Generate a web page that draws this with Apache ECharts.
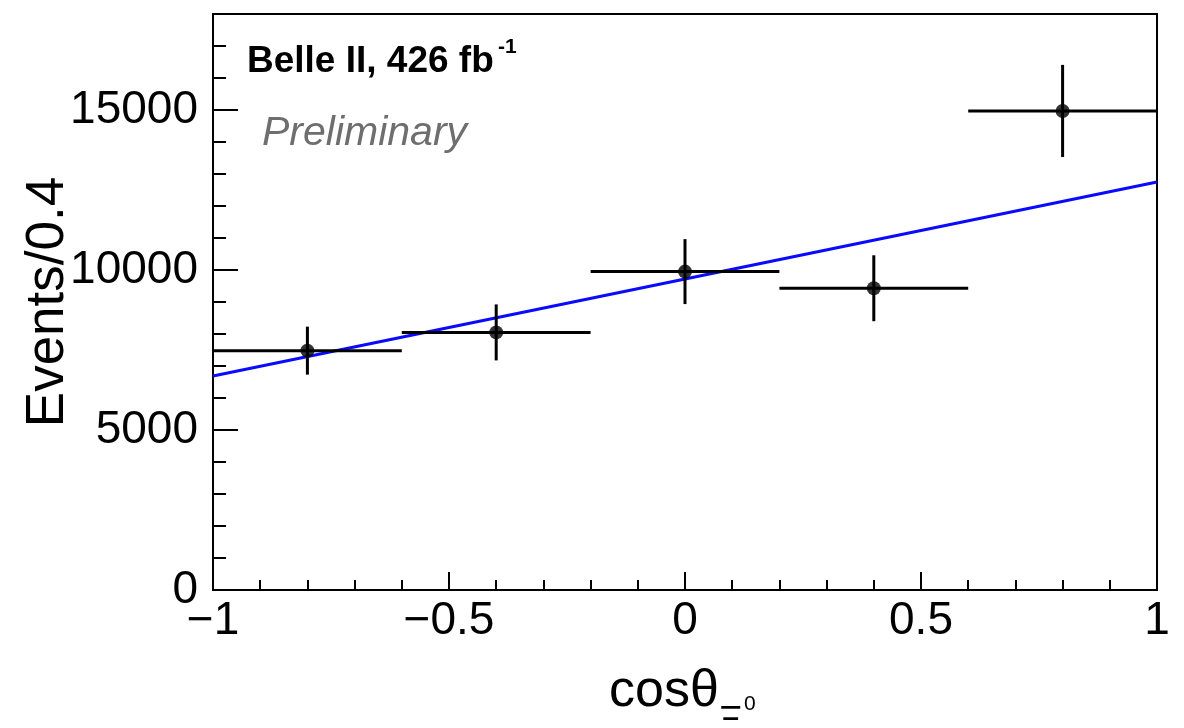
<!DOCTYPE html>
<html>
<head>
<meta charset="utf-8">
<script src="https://cdn.jsdelivr.net/npm/echarts@6/dist/echarts.min.js"></script>
<style>
html,body{margin:0;padding:0;background:#fff;}
#c{width:1184px;height:728px;}
</style>
</head>
<body>
<div id="c"></div>
<script>
// ---- data ----
const binCenters = [-0.8, -0.4, 0.0, 0.4, 0.8];
const binHalfWidths = [0.2, 0.2, 0.2, 0.2, 0.2];
const counts = [7480, 8050, 9950, 9430, 14970];
const countErrors = [750, 875, 1015, 1030, 1440];
const fitX = [-1, 1];
const fitY = [6690, 12750];
const yMajorTicks = [0, 5000, 10000, 15000];

const FONT = '"Liberation Sans", Arial, Helvetica, sans-serif';

const pointData = binCenters.map((x, i) => [x, counts[i]]);
const errData = binCenters.map((x, i) => [x, counts[i], binHalfWidths[i], countErrors[i]]);
const fitData = fitX.map((x, i) => [x, fitY[i]]);

const chart = echarts.init(document.getElementById('c'), null, {renderer: 'canvas'});

function fmtX(v) {
  const s = String(Math.round(v * 10) / 10);
  return s.replace('-', '\u2212');
}

const option = {
  animation: false,
  backgroundColor: '#fff',
  grid: {left: 213, right: 27, top: 14, bottom: 138, show: true, borderColor: '#000', borderWidth: 2, backgroundColor: 'transparent'},
  xAxis: {
    type: 'value', min: -1, max: 1, interval: 0.5,
    axisLine: {show: true, onZero: false, lineStyle: {color: '#000', width: 2}},
    axisTick: {show: true, inside: true, length: 18, lineStyle: {color: '#000', width: 2}},
    minorTick: {show: true, splitNumber: 5, length: 10, lineStyle: {color: '#000', width: 2}},
    splitLine: {show: false},
    axisLabel: {fontFamily: FONT, fontSize: 46, color: '#000', margin: 8, formatter: fmtX}
  },
  yAxis: [
    {
      type: 'value', min: 0, max: 18000, interval: 1000, position: 'left',
      axisLine: {show: true, onZero: false, lineStyle: {color: '#000', width: 2}},
      axisTick: {show: true, inside: true, length: 13, lineStyle: {color: '#000', width: 2}},
      splitLine: {show: false},
      axisLabel: {fontFamily: FONT, fontSize: 46, color: '#000', margin: 15,
        formatter: v => yMajorTicks.indexOf(v) >= 0 ? String(v) : ''},
      name: 'Events/0.4', nameLocation: 'middle', nameRotate: 90, nameGap: 138, nameMoveOverlap: false,
      nameTextStyle: {fontFamily: FONT, fontSize: 53, color: '#000'}
    },
    {
      type: 'value', min: 0, max: 18000, interval: 5000, position: 'left', offset: 0,
      axisLine: {show: true, onZero: false, lineStyle: {color: '#000', width: 2}},
      axisTick: {show: true, inside: true, length: 25, lineStyle: {color: '#000', width: 2}},
      splitLine: {show: false},
      axisLabel: {show: false}
    }
  ],
  series: [
    {
      type: 'line', data: fitData, yAxisIndex: 0, showSymbol: false, symbol: 'none',
      lineStyle: {color: '#0a0aff', width: 3}, z: 3
    },
    {
      type: 'custom', data: errData, yAxisIndex: 0, z: 4,
      renderItem: function (params, api) {
        const x = api.value(0), y = api.value(1), hw = api.value(2), e = api.value(3);
        const l = api.coord([x - hw, y]), r = api.coord([x + hw, y]);
        const t = api.coord([x, y + e]), b = api.coord([x, y - e]);
        const st = {stroke: '#000', lineWidth: 3};
        return {type: 'group', children: [
          {type: 'line', shape: {x1: l[0], y1: l[1], x2: r[0], y2: r[1]}, style: st},
          {type: 'line', shape: {x1: t[0], y1: t[1], x2: b[0], y2: b[1]}, style: st}
        ]};
      }
    },
    {
      type: 'scatter', data: pointData, yAxisIndex: 0, symbol: 'circle', symbolSize: 14,
      itemStyle: {color: '#000'}, z: 5
    }
  ],
  graphic: [
    {type: 'text', left: 247, top: 43, style: {text: 'Belle II, 426 fb', font: 'bold 37px ' + FONT, fill: '#000'}},
    {type: 'text', left: 498, top: 37, style: {text: '-1', font: 'bold 21px ' + FONT, fill: '#000'}},
    {type: 'text', left: 262, top: 113, style: {text: 'Preliminary', font: 'italic 41px ' + FONT, fill: '#6e6e6e'}},
    {type: 'text', left: 609, top: 666, style: {text: 'cos\u03b8', font: '52px ' + FONT, fill: '#000'}},
    {type: 'text', left: 719, top: 704, style: {text: '\u039e', font: '36px ' + FONT, fill: '#000'}},
    {type: 'text', left: 744, top: 694, style: {text: '0', font: '21px ' + FONT, fill: '#000'}}
  ]
};
chart.setOption(option);
</script>
</body>
</html>
